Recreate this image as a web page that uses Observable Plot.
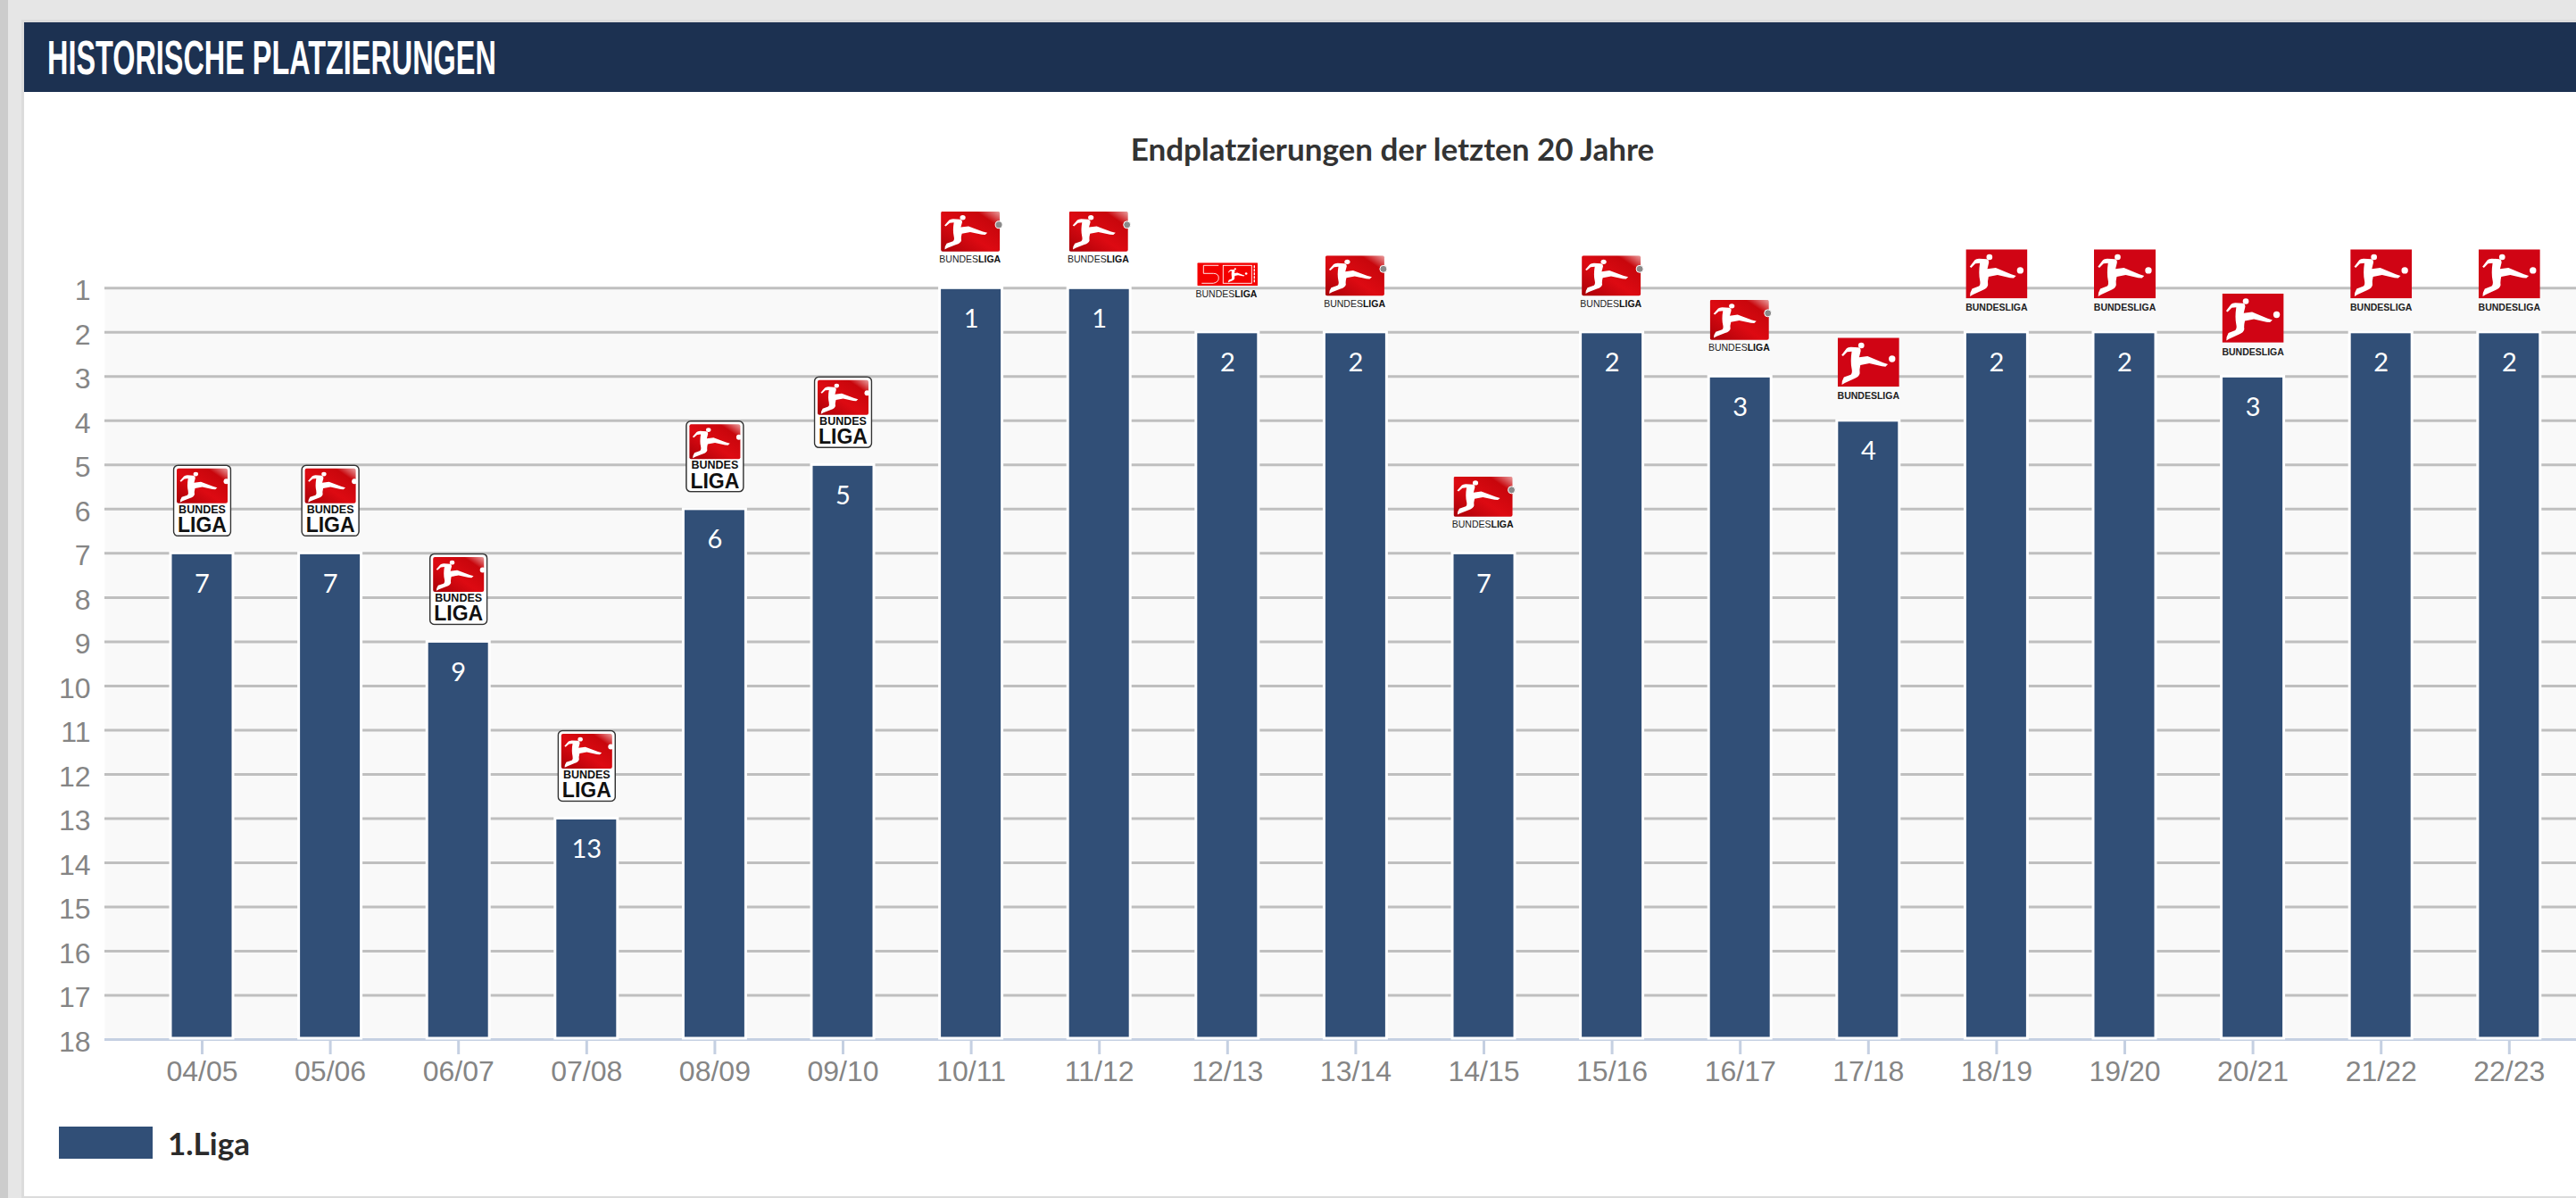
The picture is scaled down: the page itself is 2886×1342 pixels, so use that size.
<!DOCTYPE html>
<html lang="de">
<head>
<meta charset="utf-8">
<script src="https://cdn.jsdelivr.net/npm/d3@7"></script>
<script src="https://cdn.jsdelivr.net/npm/@observablehq/plot@0.6"></script>
<style>
html,body{margin:0;padding:0;background:#e6e6e6;width:2886px;height:1342px;overflow:hidden;position:relative}
#strip{position:absolute;left:0;top:0;width:9px;height:1342px;background:#cccccc}
#panel{position:absolute;left:24px;top:22px;width:2900px;height:1315px;background:#fff;border:3px solid #dcdcdc;box-sizing:content-box}
#header{position:absolute;left:27px;top:25px;width:2859px;height:78px;background:#1c3151}
#headtext{position:absolute;left:26px;top:8px;font:700 54px/62px "Liberation Sans",sans-serif;color:#fff;white-space:nowrap;transform-origin:0 50%;transform:scaleX(.6)}
#title{position:absolute;left:0;width:3120px;top:145px;text-align:center;font:700 35px/42px "Lato",sans-serif;color:#333}
#chart{position:absolute;left:0;top:215px}
#swatch{position:absolute;left:66px;top:1262px;width:105px;height:36px;background:#314f77}
#legend{position:absolute;left:188px;top:1260px;font:700 35px/40px "Lato",sans-serif;color:#2b2b2b}
</style>
</head>
<body>
<div id="strip"></div>
<div id="panel"></div>
<div id="header"><div id="headtext">HISTORISCHE PLATZIERUNGEN</div></div>
<div id="title">Endplatzierungen der letzten 20 Jahre</div>
<div id="chart"></div>
<div id="swatch"></div>
<div id="legend">1.Liga</div>
<script>
const seasons = ["04/05","05/06","06/07","07/08","08/09","09/10","10/11","11/12","12/13","13/14","14/15","15/16","16/17","17/18","18/19","19/20","20/21","21/22","22/23"];
const ranks   = [7,7,9,13,6,5,1,1,2,2,7,2,3,4,2,2,3,2,2];
const logos   = ["old","old","old","old","old","old","gloss","gloss","fifty","gloss","gloss","gloss","gloss","flat","flat","flat","flat","flat","flat"];
const rankTicks = [1,2,3,4,5,6,7,8,9,10,11,12,13,14,15,16,17,18];

const rows = seasons.map((season,i)=>({season,rank:ranks[i],logo:logos[i]}));
const of = t => rows.filter(d=>d.logo===t);

const kicker = `<path fill="#fff" d="M13 58L30 36Q34 32 44 31L70 33Q78 35 77 45L72 66L100 62L152 84L168 89L160 97L148 96L106 86L76 92Q72 108 74 120Q72 132 55 138L24 152L14 158L15 146L21 133L44 124Q50 118 47 104Q42 80 47 46L32 48L18 62Z"/><circle fill="#fff" cx="79" cy="26" r="10"/>`;
const uri = s => "data:image/svg+xml," + encodeURIComponent(s);
const svg = (w,h,b) => `<svg xmlns="http://www.w3.org/2000/svg" width="${w*3}" height="${h*3}" viewBox="0 0 ${w} ${h}" preserveAspectRatio="none">${b}</svg>`;
const grad = `<defs><linearGradient id="g" x1="0" y1="1" x2="1" y2="0"><stop offset="0" stop-color="#a80008"/><stop offset=".45" stop-color="#dd0a12"/><stop offset=".8" stop-color="#c8060c"/><stop offset="1" stop-color="#eaa0a0"/></linearGradient></defs>`;
const logoSrc = {
  flat: uri(svg(69,55,`<rect width="69" height="55" fill="#d00414"/><g transform="scale(.335 .333)">${kicker}<circle fill="#fff" cx="182" cy="71" r="11"/></g>`)),
  gloss: uri(svg(74,46,`${grad}<rect x="0" y="0" width="66" height="45" rx="2" fill="url(#g)"/><g transform="scale(.31 .27)">${kicker}</g><circle cx="65" cy="15" r="4" fill="#8a8a8a" stroke="#fff"/>`)),
  old: uri(svg(66,81,`${grad}<rect x="1" y="1" width="64" height="79" rx="5" fill="#fff" stroke="#333" stroke-width="1.5"/><rect x="4.5" y="4.5" width="57" height="39" rx="2" fill="url(#g)"/><g transform="translate(4.5 4.5) scale(.27 .24)">${kicker}</g><circle cx="60" cy="19" r="3" fill="#fff"/>`)),
  fifty: uri(svg(68,26,`<rect width="68" height="26" rx="1" fill="#f40000"/><path d="M24 3H7V12H18Q24 12 24 17T18 23H5" fill="none" stroke="#fff" stroke-width=".9"/><rect x="29" y="3" width="32" height="20" fill="none" stroke="#fff" stroke-width=".9"/><g transform="translate(33 4) scale(.12 .115)">${kicker}<circle fill="#fff" cx="182" cy="71" r="11"/></g><path d="M64 3V23" stroke="#fff" stroke-width="1.4" stroke-dasharray="3 1"/>`))
};
const imageOpts = {
  flat:{width:69,height:55,dy:-65.5},
  gloss:{width:74,height:46,dy:-63,dx:3},
  old:{width:66,height:81,dy:-59},
  fifty:{width:68,height:26,dy:-65}
};
const wordFont = "Liberation Sans";

const chart = Plot.plot({
  width:2886, height:1025,
  marginLeft:117, marginRight:0, marginTop:107.3, marginBottom:76,
  style:{background:"transparent",fontFamily:"Liberation Sans"},
  x:{type:"band",domain:seasons,range:[154.2,2882.6],padding:0,round:false,label:null},
  y:{domain:[18,1],label:null},
  marks:[
    Plot.frame({fill:"#f9f9f9",stroke:"none"}),
    Plot.ruleY(rankTicks.slice(0,-1),{stroke:"#bfbfbf",strokeWidth:3}),
    Plot.ruleY([18],{stroke:"#c5d0e2",strokeWidth:3}),
    Plot.axisY({ticks:rankTicks,tickSize:0,tickPadding:16,fontSize:32,fill:"#858585",stroke:"none",label:null,dy:3,tickFormat:d=>d}),
    Plot.axisX({tickSize:17,tickPadding:7,fontSize:32,fill:"#858585",stroke:"#c5d0e2",strokeWidth:3,label:null}),
    Plot.barY(rows,{x:"season",y1:"rank",y2:()=>18,fill:"#314f77",stroke:"#ffffff",strokeWidth:3,insetLeft:36.8,insetRight:36.8,insetBottom:1}),
    Plot.text(rows,{x:"season",y:"rank",text:d=>String(d.rank),fill:"#fff",dy:34.5,fontSize:29,fontFamily:"Lato"}),
    ...Object.keys(imageOpts).map(t=>Plot.image(of(t),{x:"season",y:"rank",src:()=>logoSrc[t],...imageOpts[t]})),
    // wordmarks
    Plot.text(of("flat"),{x:"season",y:"rank",text:()=>"BUNDESLIGA",dy:-27.5,fontSize:10.5,fontWeight:700,fill:"#222",fontFamily:wordFont}),
    Plot.text(of("gloss"),{x:"season",y:"rank",text:()=>"BUNDES",dy:-32,dx:8,textAnchor:"end",fontSize:10.5,fill:"#222",fontFamily:wordFont}),
    Plot.text(of("gloss"),{x:"season",y:"rank",text:()=>"LIGA",dy:-32,dx:8,textAnchor:"start",fontSize:10.5,fontWeight:700,fill:"#111",fontFamily:wordFont}),
    Plot.text(of("fifty"),{x:"season",y:"rank",text:()=>"BUNDES",dy:-43,dx:8,textAnchor:"end",fontSize:10.5,fill:"#222",fontFamily:wordFont}),
    Plot.text(of("fifty"),{x:"season",y:"rank",text:()=>"LIGA",dy:-43,dx:8,textAnchor:"start",fontSize:10.5,fontWeight:700,fill:"#111",fontFamily:wordFont}),
    Plot.text(of("old"),{x:"season",y:"rank",text:()=>"BUNDES",dy:-49,fontSize:12.5,fontWeight:700,fill:"#111",fontFamily:wordFont}),
    Plot.text(of("old"),{x:"season",y:"rank",text:()=>"LIGA",dy:-31,fontSize:23,fontWeight:700,fill:"#111",fontFamily:wordFont})
  ]
});
document.getElementById("chart").appendChild(chart);
</script>
</body>
</html>
